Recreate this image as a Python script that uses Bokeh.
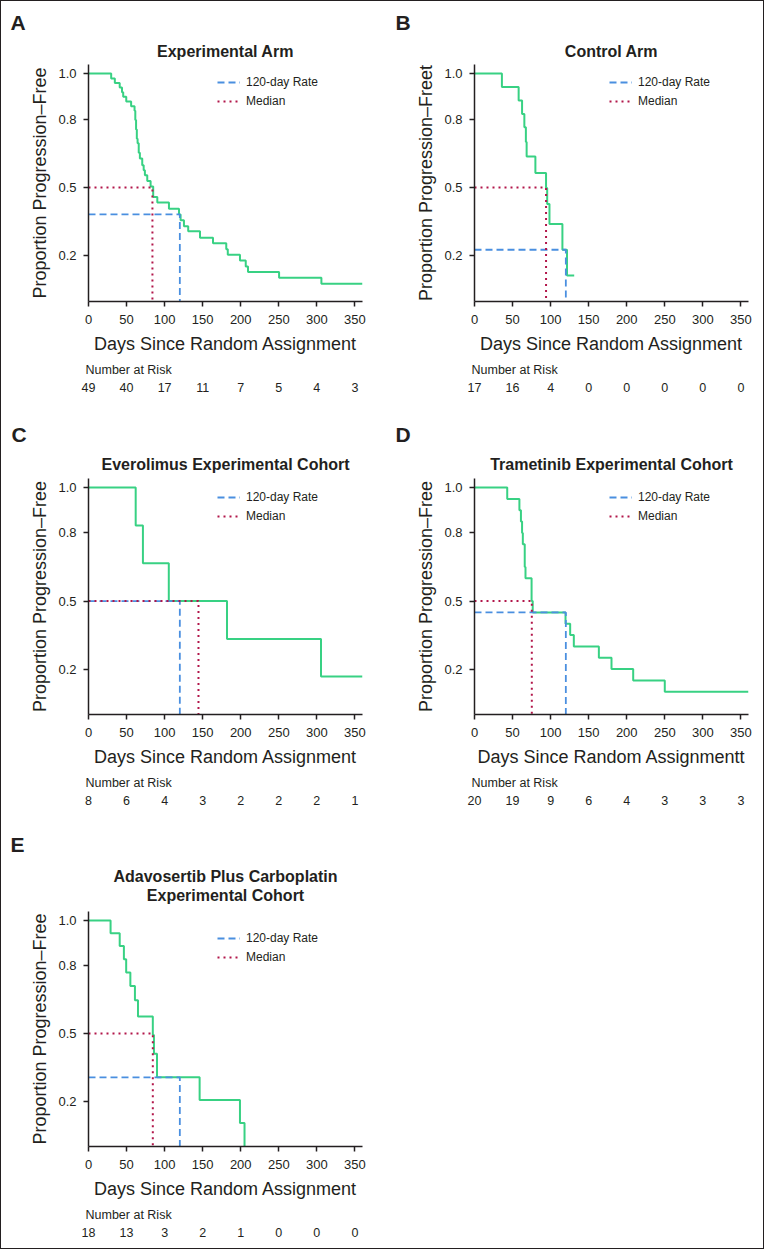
from bokeh.plotting import figure
from bokeh.models import (Range1d, FixedTicker, NumeralTickFormatter, Legend, LegendItem,
                          Title, LinearAxis)
from bokeh.layouts import column, row
from bokeh.embed import file_html
from bokeh.resources import INLINE

# ---------------- data ----------------
x_ticks = [0, 50, 100, 150, 200, 250, 300, 350]
y_ticks = [0.2, 0.5, 0.8, 1.0]
risk_days = [0, 50, 100, 150, 200, 250, 300, 350]

# A: Experimental Arm
a_days = [29.8, 34.6, 41, 44, 45.6, 49.6, 56, 60.5, 61.5, 62.5, 63.5, 64.5, 66, 67.5, 70.6, 72.5,
          74.1, 77.2, 81.6, 85, 90.4, 105.7, 118.9, 121, 125.4, 131, 146.5, 163.6, 181, 183, 199, 206.6,
          209.6, 250.4, 306]
a_surv = [0.979, 0.959, 0.939, 0.918, 0.898, 0.878, 0.857, 0.837, 0.796, 0.755, 0.714, 0.694, 0.653, 0.627, 0.598, 0.576,
          0.554, 0.529, 0.505, 0.459, 0.434, 0.407, 0.382, 0.356, 0.33, 0.308, 0.28, 0.256, 0.229, 0.205, 0.18, 0.154,
          0.129, 0.104, 0.078]
a_last = 360
a_rate120 = 0.382
a_median = 84
a_risk = [49, 40, 17, 11, 7, 5, 4, 3]

# B: Control Arm
b_days = [36, 58, 62.5, 65.5, 67.5, 68.5, 80, 94, 95.5, 98.5, 115.5, 121.5]
b_surv = [0.941, 0.882, 0.823, 0.765, 0.700, 0.636, 0.564, 0.498, 0.428, 0.340, 0.227, 0.114]
b_last = 131
b_rate120 = 0.227
b_median = 94
b_risk = [17, 16, 4, 0, 0, 0, 0, 0]

# C: Everolimus Experimental Cohort
c_days = [62, 71.5, 105.5, 182, 305.5]
c_surv = [0.833, 0.667, 0.5, 0.333, 0.167]
c_last = 360
c_rate120 = 0.5
c_median = 144.5
c_risk = [8, 6, 4, 3, 2, 2, 2, 1]

# D: Trametinib Experimental Cohort
d_days = [43, 59, 61, 62.5, 63.5, 66, 67, 75, 76.5, 119.6, 125.7, 130.5, 163.4, 180, 208.5, 250]
d_surv = [0.95, 0.90, 0.85, 0.80, 0.75, 0.65, 0.60, 0.50, 0.45, 0.40, 0.35, 0.30, 0.25, 0.20, 0.15, 0.10]
d_last = 360
d_rate120 = 0.45
d_median = 75.3
d_risk = [20, 19, 9, 6, 4, 3, 3, 3]

# E: Adavosertib Plus Carboplatin Experimental Cohort
e_days = [29, 41, 46.5, 49.5, 55, 61, 65, 84.5, 86, 90, 146, 199, 205]
e_surv = [0.944, 0.887, 0.829, 0.770, 0.710, 0.647, 0.575, 0.493, 0.411, 0.306, 0.206, 0.104, 0.0]
e_last = 205
e_rate120 = 0.306
e_median = 84.5
e_risk = [18, 13, 3, 2, 1, 0, 0, 0]

# ---------------- style ----------------
FONT = "Liberation Sans"
INK = "#231f20"
GREEN = "#38d183"
BLUE = "#4a8fe0"
RED = "#b2164a"
W = 381
FRAME_W = 274
YMAX = 1.04


def panel(fig_h, top, frame_h, ax0, days, surv, last, rate, median, risk,
          letter, letter_x, title_lines, title_off, ylab, xlab, leg_x, leg_top,
          title_standoffs, letter_standoff, spacer=None):
    bottom = fig_h - top - frame_h
    f = figure(width=W, height=fig_h, x_range=Range1d(0, 360), y_range=Range1d(0, YMAX),
               min_border_left=ax0, min_border_right=W - ax0 - FRAME_W,
               min_border_top=top, min_border_bottom=bottom,
               output_backend="svg", toolbar_location=None)
    f.outline_line_color = None
    f.grid.visible = False

    xs = [0] + days + [last]
    ys = [1.0] + surv + [surv[-1]]
    f.step(xs, ys, mode="after", line_color=GREEN, line_width=2)
    r_rate = f.line([0, 120, 120], [rate, rate, 0], line_color=BLUE, line_width=1.8, line_dash="7 4")
    r_med = f.line([0, median, median], [0.5, 0.5, 0], line_color=RED, line_width=2, line_dash="2 4")

    for ax in (f.xaxis[0], f.yaxis[0]):
        ax.axis_line_width = 1.5
        ax.axis_line_color = INK
        ax.major_tick_line_width = 1.5
        ax.major_tick_line_color = INK
        ax.major_tick_out = 5
        ax.major_tick_in = 0
        ax.minor_tick_line_color = None
        ax.major_label_text_font = FONT
        ax.major_label_text_font_size = "13px"
        ax.major_label_text_color = INK
        ax.axis_label_text_font = FONT
        ax.axis_label_text_font_size = "18px"
        ax.axis_label_text_font_style = "normal"
        ax.axis_label_text_color = INK
    f.xaxis.ticker = FixedTicker(ticks=x_ticks)
    f.yaxis.ticker = FixedTicker(ticks=y_ticks)
    f.yaxis.formatter = NumeralTickFormatter(format="0.0")
    f.xaxis.axis_label = xlab
    f.yaxis.axis_label = ylab
    f.xaxis.major_label_standoff = 8
    f.xaxis.axis_label_standoff = 7
    f.yaxis.major_label_standoff = 7
    f.yaxis.axis_label_standoff = 5

    legend = Legend(items=[LegendItem(label="120-day Rate", renderers=[r_rate]),
                           LegendItem(label="Median", renderers=[r_med])],
                    location=(leg_x, frame_h - leg_top - 35), padding=0, margin=0, spacing=3,
                    glyph_width=23, glyph_height=16, label_height=16, label_standoff=6,
                    border_line_color=None, background_fill_alpha=0,
                    label_text_font=FONT, label_text_font_size="12px", label_text_color=INK)
    f.add_layout(legend)

    # titles above the frame, nearest first
    if spacer is not None:
        f.add_layout(Title(text=" ", standoff=spacer, text_font_size="1px",
                           text_color="white"), "above")
    for line, so in zip(reversed(title_lines), title_standoffs):
        f.add_layout(Title(text=line, align="center", offset=title_off, standoff=so,
                           text_font=FONT, text_font_size="16px", text_font_style="bold",
                           text_color=INK), "above")
    f.add_layout(Title(text=letter, align="left", offset=letter_x - ax0, standoff=letter_standoff,
                       text_font=FONT, text_font_size="21px", text_font_style="bold",
                       text_color=INK), "above")

    # number-at-risk table below the x axis
    f.add_layout(Title(text="Number at Risk", align="left", offset=-3, standoff=8,
                       text_font=FONT, text_font_size="12.5px", text_font_style="normal",
                       text_color=INK), "below")
    risk_axis = LinearAxis(ticker=FixedTicker(ticks=risk_days),
                           major_label_overrides={d: str(n) for d, n in zip(risk_days, risk)},
                           axis_line_color=None, major_tick_line_color=None, minor_tick_line_color=None,
                           major_tick_out=0, major_tick_in=0, major_label_standoff=2,
                           major_label_text_font=FONT, major_label_text_font_size="12.5px",
                           major_label_text_color=INK)
    f.add_layout(risk_axis, "below")
    return f


YLAB = "Proportion Progression\u2013Free"
XLAB = "Days Since Random Assignment"

pA = panel(399, 63, 237, 87, a_days, a_surv, a_last, a_rate120, a_median, a_risk,
           "A", 9, ["Experimental Arm"], -17, YLAB, XLAB, 129, 10, [10], 4)
pB = panel(399, 63, 237, 92, b_days, b_surv, b_last, b_rate120, b_median, b_risk,
           "B", 13, ["Control Arm"], 0, "Proportion Progression\u2013Freet", XLAB, 135, 10, [10], 4)
pC = panel(413, 78, 236, 87, c_days, c_surv, c_last, c_rate120, c_median, c_risk,
           "C", 10, ["Everolimus Experimental Cohort"], 0, YLAB, XLAB, 129, 11, [11], 6)
pD = panel(413, 78, 236, 92, d_days, d_surv, d_last, d_rate120, d_median, d_risk,
           "D", 13, ["Trametinib Experimental Cohort"], 0, YLAB, "Days Since Random Assignmentt",
           135, 11, [11], 6)
pE = panel(435, 98, 235, 87, e_days, e_surv, e_last, e_rate120, e_median, e_risk,
           "E", 9, ["Adavosertib Plus Carboplatin", "Experimental Cohort"], 0, YLAB, XLAB, 129, 19,
           [0, 0], 20, spacer=5)

layout = column(row(pA, pB), row(pC, pD), row(pE),
                styles={"border": "1px solid #231f20"})

open("out.html", "w").write(file_html(layout, INLINE))
